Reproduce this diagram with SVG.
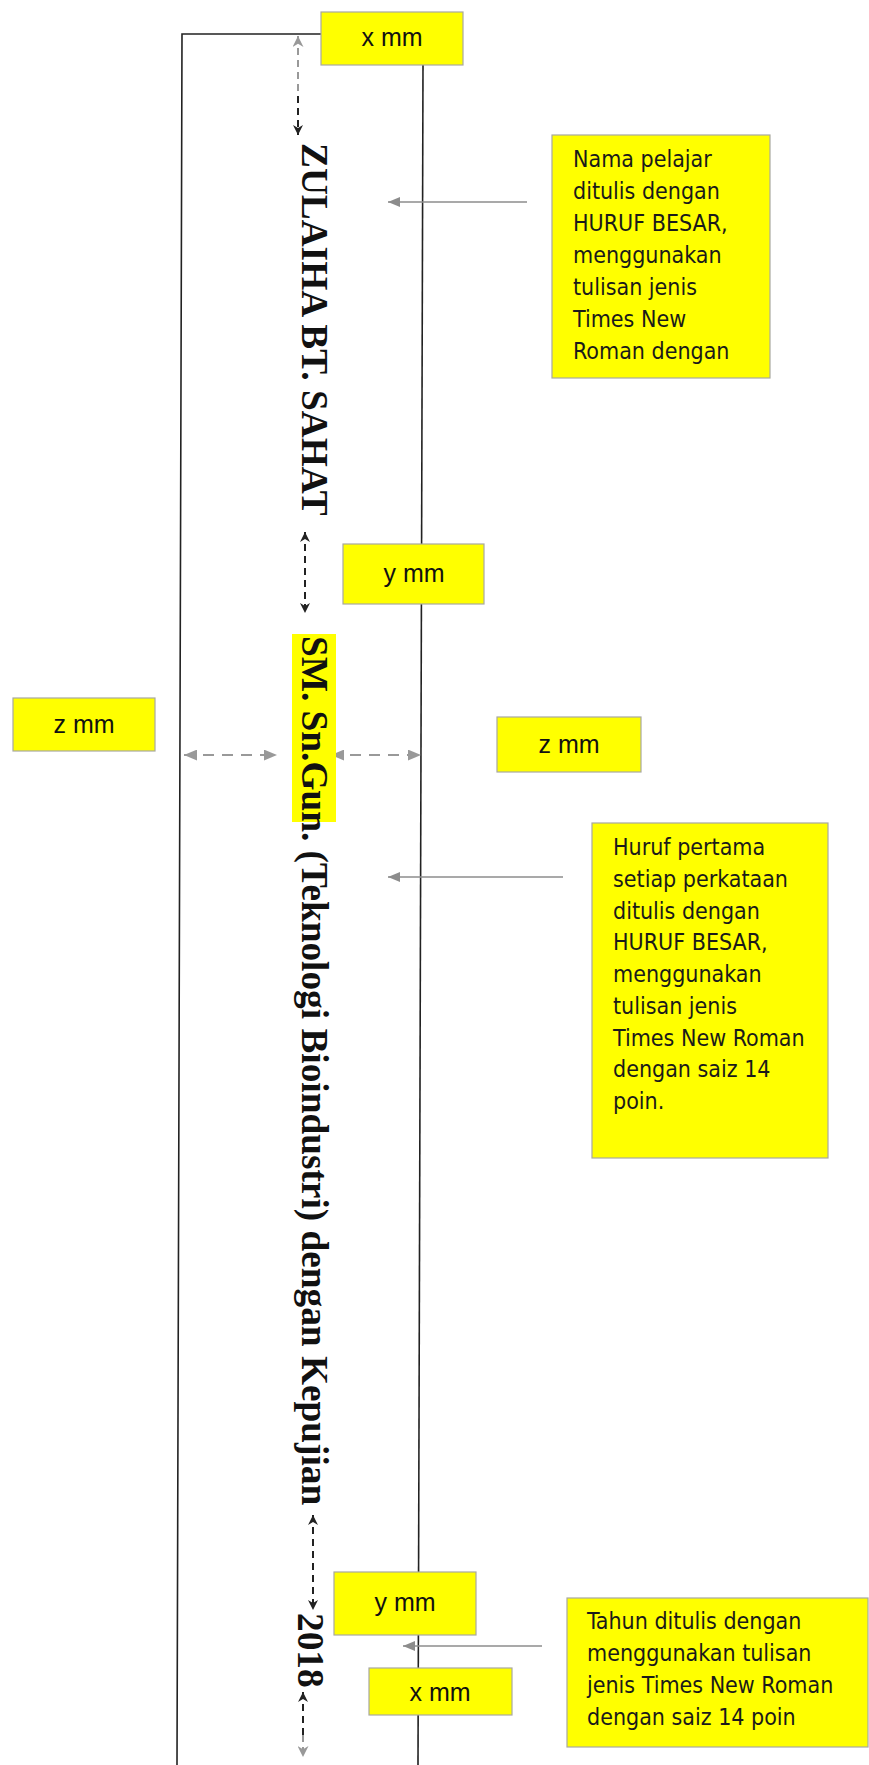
<svg xmlns="http://www.w3.org/2000/svg" width="869" height="1765" viewBox="0 0 869 1765">
<defs>
<style>
.box{fill:#ffff00;stroke:#a8a8a0;stroke-width:1.2}
.lbl{font-family:"Liberation Sans",Arial,sans-serif;font-size:25px;fill:#111;text-anchor:middle}
.note{font-family:"DejaVu Sans Condensed","DejaVu Sans",sans-serif;font-stretch:condensed;font-size:23px;fill:#1a1a1a}
.vt{font-family:"Liberation Serif","Times New Roman",serif;font-weight:bold;font-size:37.3px;fill:#111}
.frame{stroke:#222;stroke-width:1.6;fill:none}
.gsolid{stroke:#8c8c8c;stroke-width:1.6;fill:none}
.gdash{stroke:#999;stroke-width:2.2;stroke-dasharray:11 8;fill:none}
.bdash{stroke:#222;stroke-width:2;stroke-dasharray:7 5;fill:none}
.gdashv{stroke:#999;stroke-width:2;stroke-dasharray:7 5;fill:none}
</style>
<marker id="gtri" viewBox="0 0 12 10" refX="12" refY="5" markerWidth="13" markerHeight="11" markerUnits="userSpaceOnUse" orient="auto-start-reverse"><path d="M0,0 L12,5 L0,10 z" fill="#999"/></marker>
<marker id="gsm" viewBox="0 0 12 10" refX="12" refY="5" markerWidth="13" markerHeight="10" markerUnits="userSpaceOnUse" orient="auto-start-reverse"><path d="M0,0 L12,5 L0,10 z" fill="#8c8c8c"/></marker>
<marker id="bst" viewBox="0 0 10 10" refX="10" refY="5" markerWidth="10" markerHeight="10" markerUnits="userSpaceOnUse" orient="auto-start-reverse"><path d="M0,0 L10,5 L0,10 L3,5 z" fill="#222"/></marker>
<marker id="gst" viewBox="0 0 10 10" refX="10" refY="5" markerWidth="11" markerHeight="11" markerUnits="userSpaceOnUse" orient="auto-start-reverse"><path d="M0,0 L10,5 L0,10 L3,5 z" fill="#999"/></marker>
</defs>
<rect width="869" height="1765" fill="#fff"/>

<g id="frame">
<polyline class="frame" points="321,34 182,34 177,1765"/>
<line class="frame" x1="423" y1="65" x2="418" y2="1765"/>
</g>

<g id="connectors">
<path class="gdashv" d="M298,36 L298,96" marker-start="url(#gst)"/>
<path class="bdash" d="M298,96 L298,135" marker-end="url(#bst)"/>
<path class="bdash" d="M305,532 L305,613" marker-start="url(#bst)" marker-end="url(#bst)"/>
<path class="bdash" d="M313,1515 L313,1610" marker-start="url(#bst)" marker-end="url(#bst)"/>
<path class="bdash" d="M303,1692 L303,1735" marker-start="url(#bst)"/>
<path class="gdashv" d="M303,1735 L303,1757" marker-end="url(#gst)"/>
<path class="gdash" d="M184,755 L277,755" marker-start="url(#gtri)" marker-end="url(#gtri)"/>
<path class="gdash" d="M331,755 L421,755" marker-start="url(#gtri)" marker-end="url(#gtri)"/>
<path class="gsolid" d="M527,202 L388,202" marker-end="url(#gsm)"/>
<path class="gsolid" d="M563,877 L388,877" marker-end="url(#gsm)"/>
<path class="gsolid" d="M542,1646 L403,1646" marker-end="url(#gsm)"/>
</g>

<g id="x-mm-top">
<rect class="box" x="321" y="12" width="142" height="53"/>
<text class="lbl" x="392" y="46">x mm</text>
</g>

<g id="note-nama">
<rect class="box" x="552" y="135" width="218" height="243"/>
<text class="note">
<tspan x="573" y="167">Nama pelajar</tspan>
<tspan x="573" y="199">ditulis dengan</tspan>
<tspan x="573" y="231">HURUF BESAR,</tspan>
<tspan x="573" y="263">menggunakan</tspan>
<tspan x="573" y="295">tulisan jenis</tspan>
<tspan x="573" y="327">Times New</tspan>
<tspan x="573" y="359">Roman dengan</tspan>
</text>
</g>

<g id="name-text">
<text class="vt" transform="translate(302,143) rotate(90)" x="0" y="0">ZULAIHA BT. SAHAT</text>
</g>

<g id="y-mm-1">
<rect class="box" x="343" y="544" width="141" height="60"/>
<text class="lbl" x="414" y="582">y mm</text>
</g>

<g id="programme-text">
<rect x="292" y="634" width="44" height="188" fill="#ffff00"/>
<text class="vt" transform="translate(302,636) rotate(90)" x="0" y="0">SM. Sn.Gun. (Teknologi Bioindustri) dengan Kepujian</text>
</g>

<g id="z-mm-left">
<rect class="box" x="13" y="698" width="142" height="53"/>
<text class="lbl" x="84" y="733">z mm</text>
</g>

<g id="z-mm-right">
<rect class="box" x="497" y="717" width="144" height="55"/>
<text class="lbl" x="569" y="753">z mm</text>
</g>

<g id="note-huruf">
<rect class="box" x="592" y="823" width="236" height="335"/>
<text class="note">
<tspan x="613" y="855">Huruf pertama</tspan>
<tspan x="613" y="887">setiap perkataan</tspan>
<tspan x="613" y="919">ditulis dengan</tspan>
<tspan x="613" y="950">HURUF BESAR,</tspan>
<tspan x="613" y="982">menggunakan</tspan>
<tspan x="613" y="1014">tulisan jenis</tspan>
<tspan x="613" y="1046">Times New Roman</tspan>
<tspan x="613" y="1077">dengan saiz 14</tspan>
<tspan x="613" y="1109">poin.</tspan>
</text>
</g>

<g id="y-mm-2">
<rect class="box" x="334" y="1572" width="142" height="63"/>
<text class="lbl" x="405" y="1611">y mm</text>
</g>

<g id="year-text">
<text class="vt" transform="translate(298,1613) rotate(90)" x="0" y="0">2018</text>
</g>

<g id="x-mm-bottom">
<rect class="box" x="369" y="1668" width="143" height="47"/>
<text class="lbl" x="440" y="1701">x mm</text>
</g>

<g id="note-tahun">
<rect class="box" x="567" y="1598" width="301" height="149"/>
<text class="note">
<tspan x="587" y="1629">Tahun ditulis dengan</tspan>
<tspan x="587" y="1661">menggunakan tulisan</tspan>
<tspan x="587" y="1693">jenis Times New Roman</tspan>
<tspan x="587" y="1725">dengan saiz 14 poin</tspan>
</text>
</g>
</svg>
